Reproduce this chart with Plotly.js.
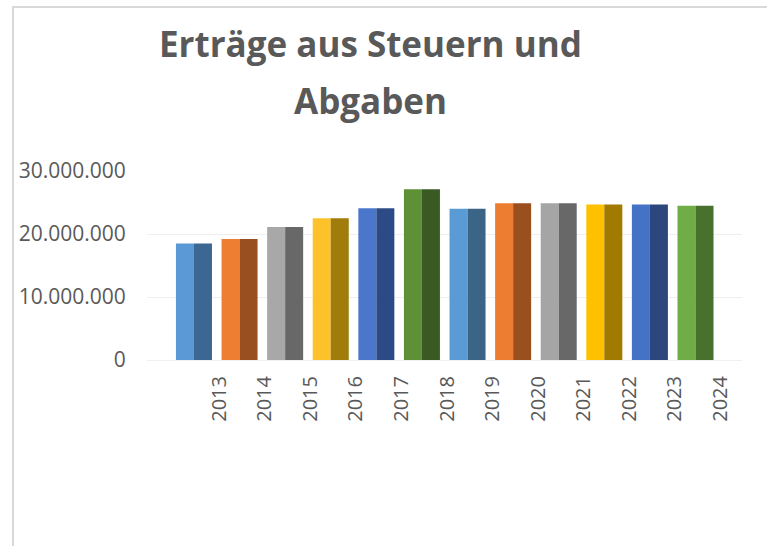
<!DOCTYPE html>
<html>
<head>
<meta charset="utf-8">
<script src="https://cdn.plot.ly/plotly-3.0.1.min.js"></script>
<style>
html,body{margin:0;padding:0;background:#fff;}
#wrap{position:relative;width:767px;height:546px;}
#chart{width:767px;height:546px;}
#frame{position:absolute;left:12px;top:6px;right:0;bottom:0;border-left:2px solid #d9d9d9;border-top:2px solid #d9d9d9;pointer-events:none;}
</style>
</head>
<body>
<div id="wrap"><div id="chart"></div><div id="frame"></div></div>
<script>
const years = ["2013","2014","2015","2016","2017","2018","2019","2020","2021","2022","2023","2024"];
const values = [18500000, 19200000, 21100000, 22500000, 24100000, 27100000, 24000000, 24900000, 24900000, 24700000, 24700000, 24500000];
const frontColors = ["#5A98D6","#EE7E32","#A8A8A8","#FDC22A","#4A76CC","#5E9038","#5B9BD5","#ED7D31","#A5A5A5","#FFC000","#4472C4","#70AD47"];
const sideColors  = ["#3C6792","#9A4F20","#686868","#A07C0A","#2C4A86","#3A5A24","#3A6587","#9A4F1F","#686868","#A37A00","#2B477E","#48712D"];
const titleLines = ["Erträge aus Steuern und","Abgaben"];

const idx = years.map((_, i) => i);

const traces = [
  {type:"bar", x:idx, y:values, name:"front", marker:{color:frontColors, line:{width:0}}, hoverinfo:"skip"},
  {type:"bar", x:idx, y:values, name:"side", marker:{color:sideColors, line:{width:0}}, hoverinfo:"skip"}
];

const font = "'Open Sans', 'Noto Sans', sans-serif";
const layout = {
  width:767, height:546,
  margin:{l:147, r:25, t:171, b:186},
  paper_bgcolor:"#ffffff", plot_bgcolor:"#ffffff",
  showlegend:false,
  barmode:"group", bargap:0.21, bargroupgap:0,
  xaxis:{
    range:[-1.03, 12.02], showgrid:false, zeroline:false, showline:false,
    tickmode:"array", tickvals:idx.map(i => i + 0.55), ticktext:years,
    tickangle:-90, ticks:"outside", ticklen:7, tickcolor:"rgba(0,0,0,0)",
    tickfont:{family:font, size:20, color:"#595959"}
  },
  yaxis:{
    range:[0, 30000000], tickvals:[0,10000000,20000000,30000000],
    ticktext:["0","10.000.000","20.000.000","30.000.000"],
    showgrid:true, gridcolor:"#efefef", gridwidth:1,
    zeroline:true, zerolinecolor:"#efefef", zerolinewidth:1, showline:false,
    ticks:"outside", ticklen:16, tickcolor:"rgba(0,0,0,0)",
    tickfont:{family:font, size:21, color:"#595959"}
  },
  annotations:[
    {text:titleLines[0], xref:"paper", yref:"paper", x:0.3748, y:1.672, xanchor:"center", yanchor:"middle", showarrow:false,
     font:{family:"'Open Sans', sans-serif", size:35, color:"#595959", weight:700}},
    {text:titleLines[1], xref:"paper", yref:"paper", x:0.3748, y:1.375, xanchor:"center", yanchor:"middle", showarrow:false,
     font:{family:"'Open Sans', sans-serif", size:35, color:"#595959", weight:700}}
  ]
};
Plotly.newPlot("chart", traces, layout, {displayModeBar:false, staticPlot:true});
</script>
</body>
</html>
